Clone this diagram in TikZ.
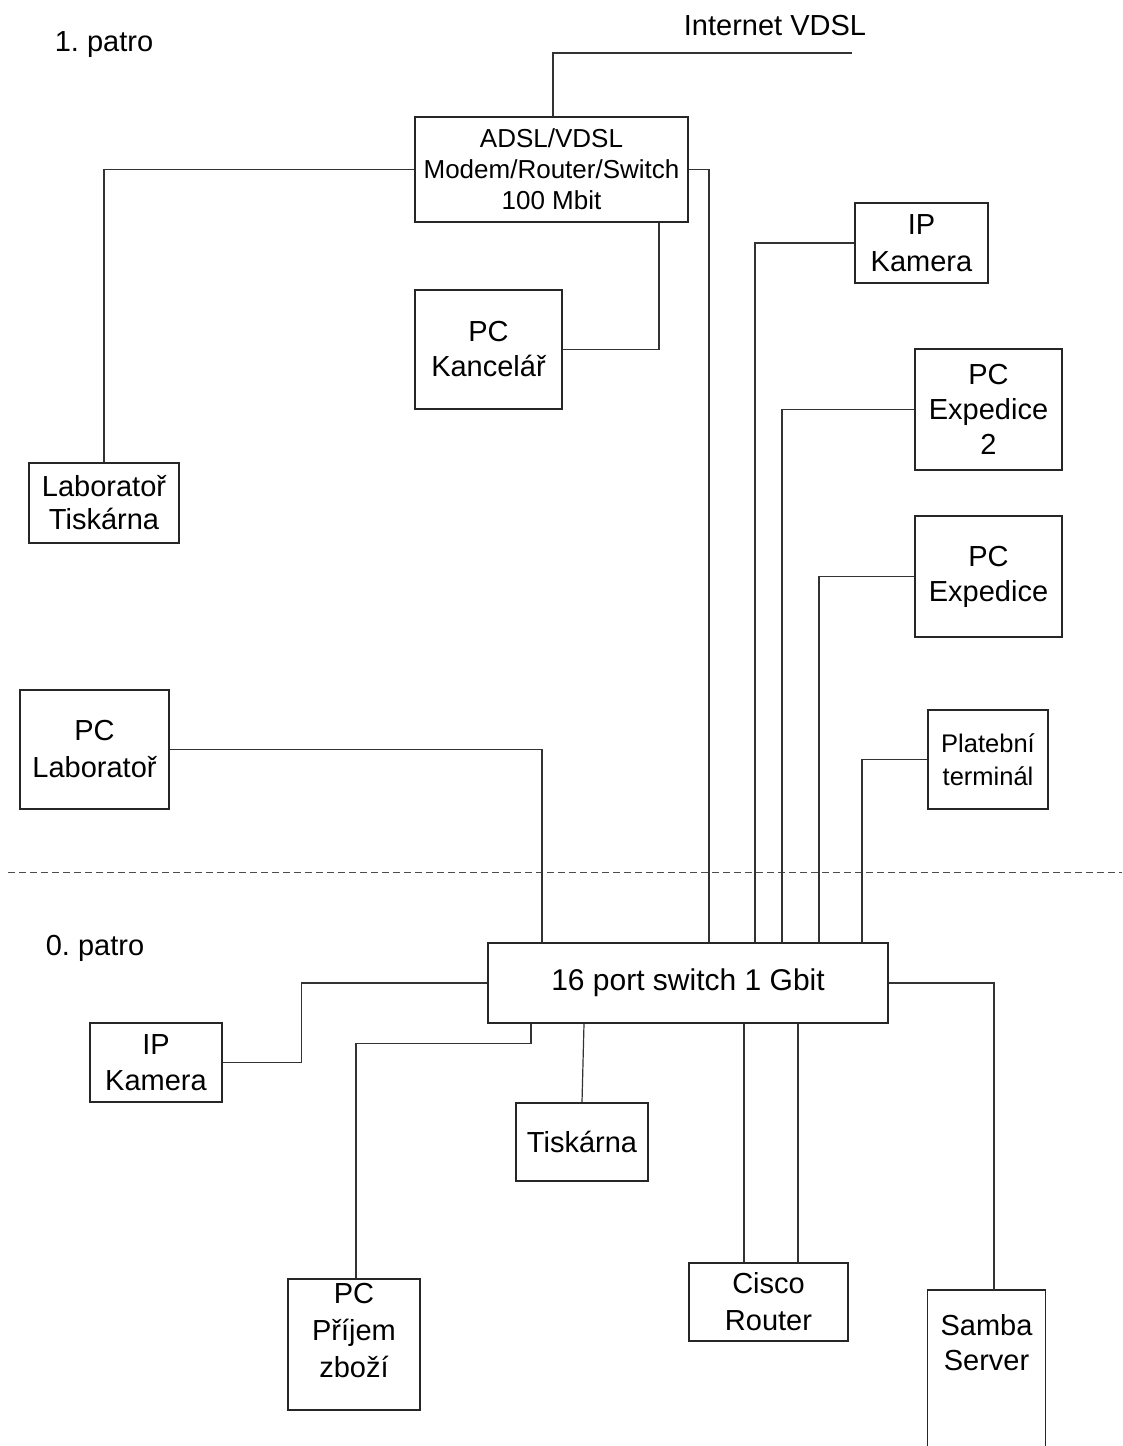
\documentclass[tikz,border=0pt]{standalone}
\usepackage{fontspec}
\setmainfont{Liberation Sans}
\frenchspacing
\tikzset{
  box/.style={draw=black!85, line width=1.2pt, fill=white, inner sep=0pt, align=center,
    font=\fontsize{29}{35}\selectfont},
  wire/.style={draw=black!80, line width=1.2pt},
  floorline/.style={draw=black!70, line width=1pt, dash pattern=on 7pt off 4pt},
  lbl/.style={inner sep=0pt, align=center, font=\fontsize{29}{35}\selectfont}
}
\begin{document}
\begin{tikzpicture}[x=1pt,y=-1pt]
\useasboundingbox (0,0) rectangle (1122,1446);
\fill[white] (0,0) rectangle (1122,1446);

% floors
\node[lbl] (p1) at (104,45) {1. patro};
\node[lbl] (p0) at (95,948) {0. patro};
\node[lbl] (inettxt) at (775,26) {Internet VDSL};
\coordinate (inet) at (852,53);
\coordinate (dla) at (8,872);
\coordinate (dlb) at (1122,872);
\draw[floorline] (dla) -- (dlb);

% boxes 1st floor
\node[box, minimum width=273, minimum height=105, font=\fontsize{26}{31}\selectfont] (adsl) at (551.5,169.5) {ADSL/VDSL\\Modem/Router/Switch\\100 Mbit};
\node[box, minimum width=147, minimum height=119] (kanc) at (488.5,349.5) {PC\\Kancelář};
\node[box, minimum width=150, minimum height=80, font=\fontsize{29}{33}\selectfont] (labt) at (104,503) {Laboratoř\\Tiskárna};
\node[box, minimum width=133, minimum height=80, font=\fontsize{29}{37}\selectfont] (ipka) at (921.5,243) {IP\\Kamera};
\node[box, minimum width=147, minimum height=121] (expb) at (988.5,409.5) {PC\\Expedice\\2};
\node[box, minimum width=147, minimum height=121] (expa) at (988.5,576.5) {PC\\Expedice};
\node[box, minimum width=120, minimum height=99, font=\fontsize{25.5}{33}\selectfont] (plat) at (988,759.5) {Platební\\terminál};
\node[box, minimum width=149, minimum height=119, font=\fontsize{29}{37}\selectfont] (pclab) at (94.5,749.5) {PC\\Laboratoř};

% boxes ground floor
\node[box, minimum width=400, minimum height=80, font=\fontsize{30}{36}\selectfont] (sw) at (688,983) {16 port switch 1 Gbit};
\node[box, minimum width=132, minimum height=79, font=\fontsize{29}{36}\selectfont] (ipkb) at (156,1062.5) {IP\\Kamera};
\node[box, minimum width=132, minimum height=78] (tisk) at (582,1142) {Tiskárna};
\node[box, minimum width=132, minimum height=131] (prij) at (354,1344.5) {};
\node[lbl, font=\fontsize{29}{37}\selectfont] (prijtxt) at ([yshift=14]prij.center) {PC\\Příjem\\zboží};
\node[box, minimum width=159, minimum height=78, font=\fontsize{29}{37}\selectfont] (cisco) at (768.5,1302) {Cisco\\Router};
\node[box, draw=none, fill=none, minimum width=117, minimum height=105, anchor=north] (samba) at (986.5,1290) {Samba\\Server};
\draw[draw=black!85, line width=1.2pt] ([yshift=-200]samba.north west) -- (samba.north west) -- (samba.north east) -- ([yshift=-200]samba.north east);

% connectors 1st floor
\draw[wire] ([xshift=1.5]adsl.north) |- (inet);
\draw[wire] (adsl.west) -| (labt.north);
\draw[wire] (adsl.east) -| ([xshift=21]sw.north);
\draw[wire] ([xshift=107.5]adsl.south) |- (kanc.east);
\draw[wire] (ipka.west) -| ([xshift=67]sw.north);
\draw[wire] (expb.west) -| ([xshift=94]sw.north);
\draw[wire] (expa.west) -| ([xshift=131]sw.north);
\draw[wire] (plat.west) -| ([xshift=174]sw.north);
\draw[wire] (pclab.east) -| ([xshift=-146]sw.north);

% connectors ground floor
\draw[wire] (ipkb.east) -- ++(79,0) |- (sw.west);
\draw[wire] ([xshift=-157]sw.south) -- ++(0,20) -| ([xshift=2]prij.north);
\draw[wire] ([xshift=-104]sw.south) -- (tisk.north);
\draw[wire] ([xshift=56]sw.south) -- ([xshift=-24.5]cisco.north);
\draw[wire] ([xshift=110]sw.south) -- ([xshift=29.5]cisco.north);
\draw[wire] (sw.east) -| ([xshift=7.5]samba.north);
\end{tikzpicture}
\end{document}
